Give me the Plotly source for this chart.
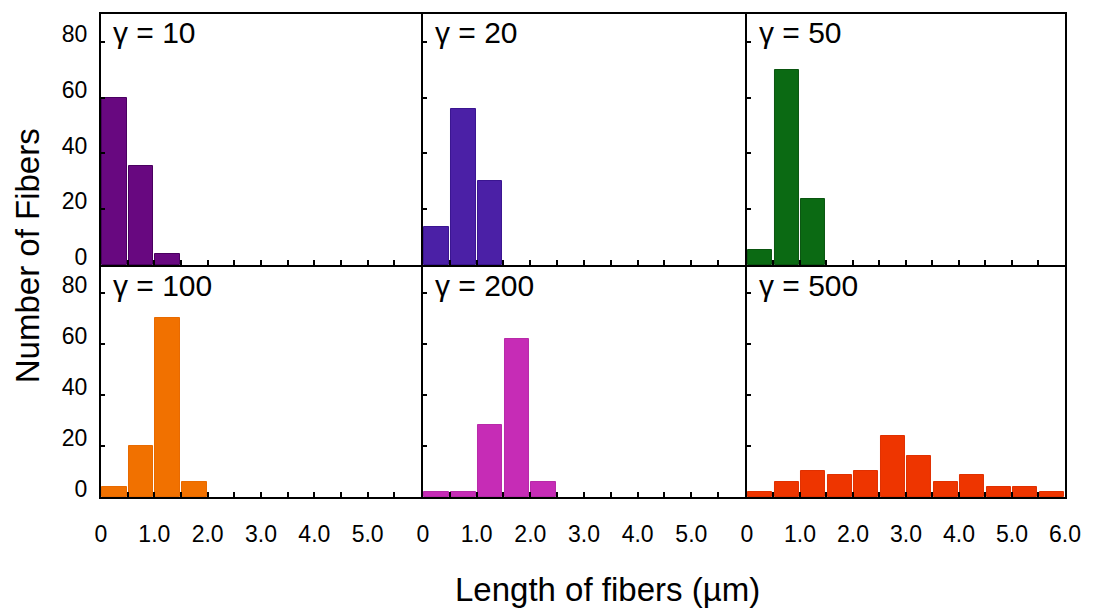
import plotly.graph_objects as go

# ---- data ----
bin_centers = [0.25, 0.75, 1.25, 1.75, 2.25, 2.75, 3.25, 3.75, 4.25, 4.75, 5.25, 5.75]
counts_g10 = [60, 35.5, 4]
counts_g20 = [13.5, 56, 30]
counts_g50 = [5.5, 70, 23.5]
counts_g100 = [4, 20, 70, 6]
counts_g200 = [2, 2, 28, 62, 6]
counts_g500 = [2, 6, 10, 8.5, 10, 24, 16, 6, 8.5, 4, 4, 2]
panel_labels = ["γ = 10", "γ = 20", "γ = 50", "γ = 100", "γ = 200", "γ = 500"]
y_tickvals = [0, 20, 40, 60, 80]
x_tickvals = [0, 0.5, 1, 1.5, 2, 2.5, 3, 3.5, 4, 4.5, 5, 5.5, 6]
x_ticktext_a = ["0", "", "1.0", "", "2.0", "", "3.0", "", "4.0", "", "5.0", "", ""]
x_ticktext_b = ["0", "", "1.0", "", "2.0", "", "3.0", "", "4.0", "", "5.0", "", "6.0"]

series = [counts_g10, counts_g20, counts_g50, counts_g100, counts_g200, counts_g500]
colors = ["#680880", "#4B20A6", "#0B6A13", "#F17100", "#C62CB6", "#EE3500"]
edges = ["#4A0060", "#3A1590", "#0A5510", "#E86A00", "#B82AA8", "#E03000"]

FONT = "Liberation Sans, Arial, sans-serif"

fig = go.Figure()

px_w = 970.0
px_h = 483.0
xdoms = [[0, 322 / px_w], [324 / px_w, 648 / px_w], [650 / px_w, 1.0]]
ydoms = [[232 / px_h, 1.0], [0.0, 230 / px_h]]

for i, vals in enumerate(series):
    r, c = divmod(i, 3)
    ax = i + 1
    xa = "x" if ax == 1 else f"x{ax}"
    ya = "y" if ax == 1 else f"y{ax}"
    fig.add_trace(go.Bar(
        x=bin_centers[:len(vals)], y=vals, width=0.46,
        marker=dict(color=colors[i], line=dict(color=edges[i], width=1)),
        xaxis=xa, yaxis=ya, showlegend=False,
    ))
    xkey = "xaxis" if ax == 1 else f"xaxis{ax}"
    ykey = "yaxis" if ax == 1 else f"yaxis{ax}"
    show_xlab = (r == 1)
    fig.layout[xkey] = dict(
        domain=xdoms[c], anchor=ya, range=[0, 6],
        tickmode="array", tickvals=x_tickvals,
        ticktext=(x_ticktext_b if c == 2 else x_ticktext_a) if show_xlab else [""] * len(x_tickvals),
        showticklabels=show_xlab,
        ticks="inside", ticklen=5, tickwidth=1.5, tickcolor="black",
        showline=True, linecolor="black", linewidth=2, mirror=True,
        showgrid=False, zeroline=False,
        tickfont=dict(family=FONT, size=23, color="black"),
        ticklabelstandoff=15,
    )
    fig.layout[ykey] = dict(
        domain=ydoms[r], anchor=xa, range=[0, 90],
        tickmode="array", tickvals=y_tickvals,
        showticklabels=(c == 0),
        ticks="inside", ticklen=4, tickwidth=1.5, tickcolor="black",
        showline=True, linecolor="black", linewidth=2, mirror=True,
        showgrid=False, zeroline=False,
        tickfont=dict(family=FONT, size=23, color="black"),
        ticklabelstandoff=7, ticklabelshift=-8,
    )
    fig.add_annotation(
        text=panel_labels[i], xref=f"{xa} domain", yref=f"{ya} domain",
        x=0.03, y=1, xanchor="left", yanchor="top", yshift=0,
        showarrow=False, font=dict(family=FONT, size=30, color="black"),
    )

fig.add_annotation(
    text="Number of Fibers", xref="paper", yref="paper", x=-0.076, y=0.5,
    xanchor="center", yanchor="middle", textangle=-90, showarrow=False,
    font=dict(family=FONT, size=33, color="black"),
)
fig.add_annotation(
    text="Length of fibers (µm)", xref="paper", yref="paper", x=0.525, y=-0.192,
    xanchor="center", yanchor="middle", showarrow=False,
    font=dict(family=FONT, size=33, color="black"),
)

fig.update_layout(
    width=1093, height=612,
    margin=dict(l=101, r=22, t=14, b=115),
    paper_bgcolor="white", plot_bgcolor="white",
    bargap=0,
)

fig.write_html("out.html")
